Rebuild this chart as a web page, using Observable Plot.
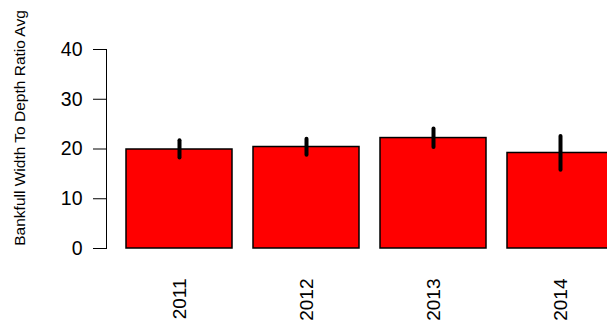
<!DOCTYPE html>
<html>
<head>
<meta charset="utf-8">
<script src="https://cdn.jsdelivr.net/npm/d3@7"></script>
<script src="https://cdn.jsdelivr.net/npm/@observablehq/plot@0.6"></script>
<style>
  html, body { margin: 0; padding: 0; background: #fff; }
  #chart svg { display: block; overflow: hidden; }
</style>
</head>
<body>
<div id="chart"></div>
<script>
const years = ["2011", "2012", "2013", "2014"];
const means = [19.9, 20.4, 22.2, 19.2];
const lows  = [18.2, 18.75, 20.3, 15.75];
const highs = [21.65, 21.95, 24.0, 22.5];
const yTicks = [0, 10, 20, 30, 40];
const yLabel = "Bankfull Width To Depth Ratio Avg";

const data = years.map((year, i) => ({year, mean: means[i], lo: lows[i], hi: highs[i]}));

const chart = Plot.plot({
  width: 607,
  height: 324,
  marginTop: 49,
  marginBottom: 76,
  marginLeft: 106,
  marginRight: 0,
  style: {fontFamily: "Liberation Sans, Arial, Helvetica, sans-serif", background: "#fff"},
  x: {domain: years, range: [126, 613], paddingInner: 1/6, paddingOuter: 0, align: 0},
  y: {domain: [0, 40]},
  marks: [
    Plot.barY(data, {x: "year", y: "mean", fill: "#ff0000", stroke: "#000", strokeWidth: 1.5}),
    Plot.ruleX(data, {x: "year", y1: "lo", y2: "hi", stroke: "#000", strokeWidth: 4, strokeLinecap: "round"}),
    Plot.frame({anchor: "left", stroke: "#000", strokeWidth: 1}),
    Plot.axisY({ticks: yTicks, tickSize: 13, tickPadding: 11, fontSize: 19.5, label: null, stroke: "#000", color: "#000"}),
    Plot.axisX({tickSize: 0, tickPadding: 30, tickRotate: -90, fontSize: 19, label: null, color: "#000"}),
    Plot.text([yLabel], {frameAnchor: "top-left", dx: -81.5, dy: 78.5, rotate: -90, fontSize: 15.5, fill: "#000", lineAnchor: "bottom", textAnchor: "middle"})
  ]
});
document.getElementById("chart").appendChild(chart);
</script>
</body>
</html>
